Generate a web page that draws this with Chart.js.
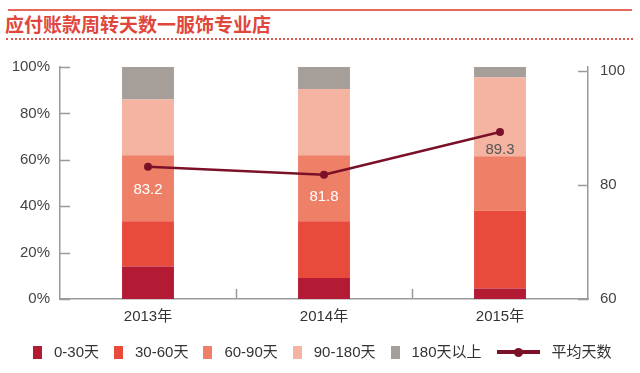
<!DOCTYPE html>
<html>
<head>
<meta charset="utf-8">
<script src="https://cdn.jsdelivr.net/npm/chart.js@4/dist/chart.umd.min.js"></script>
<style>
  html, body { margin: 0; padding: 0; background: #fff; }
  #wrap { position: relative; width: 640px; height: 373px; overflow: hidden; font-family: "Liberation Sans", "Noto Sans CJK SC", sans-serif; }
  #chart { position: absolute; left: 0; top: 0; }
  .topline { position: absolute; left: 8px; top: 9px; width: 624px; border-top: 2px solid #e4685c; }
  .dotline { position: absolute; left: 6px; top: 38px; width: 627px; border-top: 2px dotted #e0564b; }
  .title { position: absolute; left: 5px; top: 10px; line-height: 24px; font: bold 19px "Noto Sans CJK SC", sans-serif; color: #e0473c; white-space: nowrap; }
  .legend { position: absolute; left: 33px; top: 343px; display: flex; align-items: center; font-size: 15px; color: #333; line-height: 18px; }
  .legend .item { display: flex; align-items: center; margin-right: 15px; }
  .legend .sw { width: 9px; height: 13px; margin-right: 12px; }
  .legend .ln { position: relative; width: 43px; height: 4px; margin-right: 12px; }
  .legend .ln i { position: absolute; left: 17px; top: -2.5px; width: 9px; height: 9px; border-radius: 50%; }
</style>
</head>
<body>
<div id="wrap">
  <div class="topline"></div>
  <div class="title">应付账款周转天数一服饰专业店</div>
  <div class="dotline"></div>
  <canvas id="chart" width="640" height="373"></canvas>
  <div class="legend" id="legend"></div>
</div>
<script>
// data
const years = ['2013年', '2014年', '2015年'];
const d0to30 = [14, 9, 4.5];
const d30to60 = [19.5, 24.5, 33.5];
const d60to90 = [28.5, 28.5, 23.5];
const d90to180 = [24, 28.5, 34];
const dOver180 = [14, 9.5, 4.5];
const avgDays = [83.2, 81.8, 89.3];
const pctTicks = [0, 20, 40, 60, 80, 100];
const dayTicks = [60, 80, 100];

const barNames = ['0-30天', '30-60天', '60-90天', '90-180天', '180天以上'];
const barColors = ['#b31a33', '#e84a3c', '#ee8068', '#f5b4a2', '#a69f99'];
const lineName = '平均天数';
const lineColor = '#7b1128';
const axisColor = '#9a9a9a';

// inner tick marks, placed from the scales
const innerTicks = {
    id: 'innerTicks',
    afterDatasetsDraw(chart) {
        const ctx = chart.ctx;
        const area = chart.chartArea;
        const y = chart.scales.y, y2 = chart.scales.y2, x = chart.scales.x;
        ctx.save();
        ctx.strokeStyle = axisColor;
        ctx.lineWidth = 1.5;
        ctx.beginPath();
        pctTicks.forEach(v => {
            const py = Math.round(y.getPixelForValue(v)) + 0.5;
            ctx.moveTo(area.left, py);
            ctx.lineTo(area.left + 10, py);
        });
        dayTicks.forEach(v => {
            const py = Math.round(y2.getPixelForValue(v)) + 0.5;
            ctx.moveTo(area.right, py);
            ctx.lineTo(area.right - 10, py);
        });
        for (let i = 0; i < years.length - 1; i++) {
            const px = Math.round(x.getPixelForValue(i + 0.5)) + 0.5;
            ctx.moveTo(px, area.bottom);
            ctx.lineTo(px, area.bottom - 10);
        }
        ctx.stroke();
        ctx.restore();
    }
};

// value labels under the line points
const pointLabels = {
    id: 'pointLabels',
    afterDatasetsDraw(chart) {
        const ctx = chart.ctx;
        const meta = chart.getDatasetMeta(5);
        const colors = ['#ffffff', '#ffffff', '#555555'];
        const offsets = [23, 22, 18];
        ctx.save();
        ctx.font = '15px "Liberation Sans", sans-serif';
        ctx.textAlign = 'center';
        ctx.textBaseline = 'middle';
        meta.data.forEach((pt, i) => {
            ctx.fillStyle = colors[i];
            ctx.fillText(avgDays[i].toFixed(1), pt.x, pt.y + offsets[i]);
        });
        ctx.restore();
    }
};

const barSeries = [d0to30, d30to60, d60to90, d90to180, dOver180];
const datasets = barSeries.map((vals, i) => ({
    type: 'bar',
    label: barNames[i],
    data: vals,
    backgroundColor: barColors[i],
    borderWidth: 0,
    barPercentage: 0.295,
    categoryPercentage: 1,
    stack: 's',
    yAxisID: 'y',
    order: 1
}));
datasets.push({
    type: 'line',
    label: lineName,
    data: avgDays,
    borderColor: lineColor,
    backgroundColor: lineColor,
    borderWidth: 2.5,
    pointRadius: 4,
    pointBackgroundColor: lineColor,
    pointBorderWidth: 0,
    tension: 0,
    yAxisID: 'y2',
    order: 0
});

const tickFont = { family: '"Liberation Sans", "Noto Sans CJK SC", sans-serif', size: 15 };

new Chart(document.getElementById('chart'), {
    data: { labels: years, datasets: datasets },
    options: {
        responsive: false,
        animation: false,
        layout: { padding: { top: 67, left: 0, right: 0, bottom: 0 } },
        plugins: { legend: { display: false }, tooltip: { enabled: false } },
        scales: {
            x: {
                stacked: true,
                grid: { display: false, drawTicks: false },
                border: { color: axisColor, width: 1.5 },
                ticks: { color: '#333', font: tickFont, padding: 9 },
                afterFit: s => { s.height = 74; }
            },
            y: {
                stacked: true,
                position: 'left',
                min: 0,
                max: 100,
                grid: { display: false, drawTicks: false },
                border: { color: axisColor, width: 1.5 },
                afterBuildTicks: s => { s.ticks = pctTicks.map(v => ({ value: v })); },
                ticks: { color: '#444', font: tickFont, padding: 10, callback: v => v + '%' },
                afterFit: s => { s.width = 60; }
            },
            y2: {
                position: 'right',
                min: 60,
                max: 100.7,
                grid: { display: false, drawTicks: false },
                border: { color: axisColor, width: 1.5 },
                afterBuildTicks: s => { s.ticks = dayTicks.map(v => ({ value: v })); },
                ticks: { color: '#444', font: tickFont, padding: 12 },
                afterFit: s => { s.width = 52; }
            }
        }
    },
    plugins: [innerTicks, pointLabels]
});

// legend
const legend = document.getElementById('legend');
barNames.forEach((name, i) => {
    const item = document.createElement('div');
    item.className = 'item';
    item.innerHTML = '<span class="sw" style="background:' + barColors[i] + '"></span><span>' + name + '</span>';
    legend.appendChild(item);
});
const lineItem = document.createElement('div');
lineItem.className = 'item';
lineItem.innerHTML = '<span class="ln" style="background:' + lineColor + '"><i style="background:' + lineColor + '"></i></span><span>' + lineName + '</span>';
legend.appendChild(lineItem);
</script>
</body>
</html>
